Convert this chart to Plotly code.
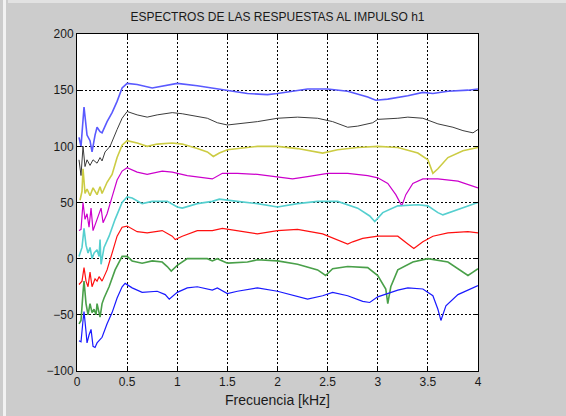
import plotly.graph_objects as go

# ---- data (frequency in kHz, magnitude in dB-ish, offset per curve) ----
x1 = [0.02,0.04,0.07,0.1,0.13,0.15,0.18,0.2,0.23,0.25,0.3,0.35,0.4,0.45,0.5,0.6,0.75,1.0,1.2,1.5,1.7,1.9,2.0,2.3,2.5,2.7,2.9,2.98,3.1,3.3,3.45,3.55,3.7,3.9,4.0]
y1 = [108,100,135,110,105,95,110,117,113,112,122,130,140,152,156,155,152,156,154,150,147,146,147,151,151,149,144,141,142,145,148,147,149,150,151]

x2 = [0.02,0.04,0.06,0.08,0.1,0.13,0.16,0.2,0.23,0.25,0.28,0.33,0.4,0.45,0.5,0.6,0.7,0.8,0.95,1.05,1.3,1.4,1.5,1.6,1.8,2.0,2.2,2.4,2.55,2.7,2.8,2.95,3.0,3.2,3.3,3.45,3.6,3.75,3.85,3.95,4.0]
y2 = [88,74,100,82,88,83,88,85,90,87,95,100,115,125,131,128,126,128,130,129,125,121,119,120,122,125,126,125,122,117,118,121,124,125,126,125,120,117,114,112,115]

x3 = [0.03,0.05,0.06,0.08,0.1,0.13,0.16,0.2,0.23,0.25,0.3,0.35,0.4,0.45,0.5,0.6,0.7,0.8,0.95,1.05,1.2,1.3,1.36,1.42,1.5,1.7,1.8,2.0,2.2,2.45,2.6,2.8,3.0,3.2,3.4,3.5,3.55,3.6,3.7,3.85,4.0]
y3 = [52,60,80,58,62,56,63,57,64,58,68,75,90,101,105,103,100,102,103,102,98,95,91,94,97,99,100,100,98,94,97,99,100,99,94,88,76,80,90,96,99]

x4 = [0.02,0.04,0.06,0.08,0.1,0.12,0.14,0.16,0.2,0.22,0.24,0.26,0.3,0.35,0.4,0.45,0.5,0.6,0.7,0.85,0.95,1.1,1.25,1.35,1.45,1.6,1.8,2.0,2.15,2.3,2.5,2.7,2.9,3.0,3.1,3.18,3.24,3.28,3.35,3.45,3.6,3.8,4.0]
y4 = [25,26,50,35,40,28,45,25,35,40,45,32,40,55,70,78,81,77,75,78,77,74,72,71,76,76,75,73,71,73,76,76,74,72,67,57,47,57,67,71,71,69,63]

x5 = [0.02,0.05,0.07,0.09,0.11,0.13,0.15,0.17,0.2,0.22,0.23,0.24,0.27,0.32,0.38,0.45,0.5,0.55,0.65,0.75,0.9,1.0,1.05,1.2,1.35,1.42,1.6,1.8,2.0,2.2,2.4,2.6,2.8,2.92,2.97,3.05,3.2,3.4,3.5,3.6,3.65,3.8,4.0]
y5 = [2,10,27,12,5,10,0,5,8,2,17,-5,10,20,35,50,55,54,49,51,51,46,45,49,51,53,51,49,46,49,51,51,45,38,33,41,47,48,47,41,39,44,50]

x6 = [0.02,0.05,0.07,0.09,0.11,0.13,0.15,0.18,0.2,0.22,0.25,0.3,0.35,0.4,0.45,0.5,0.6,0.7,0.85,0.95,0.98,1.05,1.2,1.35,1.45,1.6,1.8,2.0,2.2,2.45,2.6,2.7,2.75,2.85,3.0,3.2,3.3,3.36,3.45,3.55,3.7,3.9,4.0]
y6 = [-23,-20,-8,-20,-25,-12,-25,-18,-20,-16,-20,-10,5,20,28,29,24,23,25,20,17,20,25,25,27,25,22,25,26,22,17,13,15,18,20,20,13,9,15,20,23,24,23]

x7 = [0.02,0.04,0.06,0.07,0.09,0.11,0.13,0.15,0.17,0.19,0.2,0.23,0.25,0.27,0.32,0.38,0.45,0.5,0.55,0.65,0.75,0.85,0.9,0.94,1.0,1.1,1.3,1.35,1.4,1.5,1.7,1.8,2.0,2.2,2.4,2.48,2.55,2.7,2.9,3.0,3.08,3.1,3.13,3.2,3.35,3.5,3.7,3.85,3.9,3.95,4.0]
y7 = [-58,-55,-30,-20,-40,-50,-40,-48,-45,-50,-40,-52,-40,-35,-25,-10,2,2,-2,-4,-2,-3,-7,-11,-6,0,0,-2,0,-4,-3,-1,-2,-5,-10,-15,-9,-7,-8,-15,-27,-40,-25,-10,-3,0,-3,-12,-15,-12,-9]

x8 = [0.02,0.04,0.06,0.07,0.09,0.1,0.12,0.14,0.16,0.18,0.2,0.25,0.3,0.35,0.4,0.45,0.48,0.55,0.65,0.8,0.88,0.92,1.0,1.1,1.2,1.35,1.4,1.5,1.6,1.8,2.0,2.2,2.3,2.45,2.55,2.7,2.85,2.92,3.0,3.2,3.3,3.45,3.55,3.6,3.63,3.68,3.8,4.0]
y8 = [-73,-74,-55,-47,-65,-75,-68,-63,-78,-79,-75,-70,-58,-48,-35,-25,-22,-26,-30,-29,-32,-36,-30,-26,-25,-28,-26,-31,-29,-26,-29,-34,-36,-33,-30,-33,-38,-39,-34,-28,-26,-27,-33,-45,-55,-42,-32,-24]

series = [
    (x1, y1, "#5a5aff", 1.6),
    (x2, y2, "#3c3c3c", 1.0),
    (x3, y3, "#cccc44", 1.6),
    (x4, y4, "#cc00cc", 1.2),
    (x5, y5, "#55cfcf", 1.6),
    (x6, y6, "#ff1010", 1.2),
    (x7, y7, "#4aa04a", 1.6),
    (x8, y8, "#1a1aff", 1.2),
]

xticks = [0, 0.5, 1, 1.5, 2, 2.5, 3, 3.5, 4]
xticklabels = ["0", "0.5", "1", "1.5", "2", "2.5", "3", "3.5", "4"]
yticks = [-100, -50, 0, 50, 100, 150, 200]

fig = go.Figure()
for xs, ys, col, w in series:
    fig.add_trace(go.Scatter(x=xs, y=ys, mode="lines",
                             line=dict(color=col, width=w), hoverinfo="skip"))

font = dict(family="Liberation Sans, Arial, sans-serif", size=12, color="#1a1a1a")

fig.update_layout(
    width=566, height=416,
    margin=dict(l=77, r=88, t=34, b=45),
    paper_bgcolor="#cccccc", plot_bgcolor="#ffffff",
    showlegend=False,
    font=font,
    title=dict(text="ESPECTROS DE LAS RESPUESTAS AL IMPULSO h1",
               x=0.5, xanchor="center", xref="paper", y=1, yref="container",
               yanchor="top", pad=dict(t=13),
               font=dict(family="Liberation Sans, Arial, sans-serif", size=12, color="#1a1a1a")),
    xaxis=dict(range=[0, 4], tickvals=xticks, ticktext=xticklabels,
               showgrid=True, gridcolor="#000000", griddash="2px,2px", gridwidth=1,
               showline=True, linecolor="#000000", linewidth=1, mirror="ticks",
               ticks="inside", ticklen=4, tickcolor="#000000",
               zeroline=False, title=dict(text="Frecuencia [kHz]", standoff=6),
               tickfont=font),
    yaxis=dict(range=[-100, 200], tickvals=yticks,
               showgrid=True, gridcolor="#000000", griddash="2px,2px", gridwidth=1,
               showline=True, linecolor="#000000", linewidth=1, mirror="ticks",
               ticks="inside", ticklen=4, tickcolor="#000000",
               zeroline=False, tickfont=font),
    shapes=[
        dict(type="rect", xref="paper", yref="paper", x0=-74/401, x1=-71/401,
             y0=-45/337, y1=1+34/337, fillcolor="#f2f2f2", line=dict(width=0), layer="below"),
        dict(type="rect", xref="paper", yref="paper", x0=-69/401, x1=1+88/401,
             y0=1+31/337, y1=1+34/337, fillcolor="#e2e2e2", line=dict(width=0), layer="below"),
    ],
)

fig.write_html("out.html", config={"displayModeBar": False},
               post_script="document.body.style.margin='0';")
